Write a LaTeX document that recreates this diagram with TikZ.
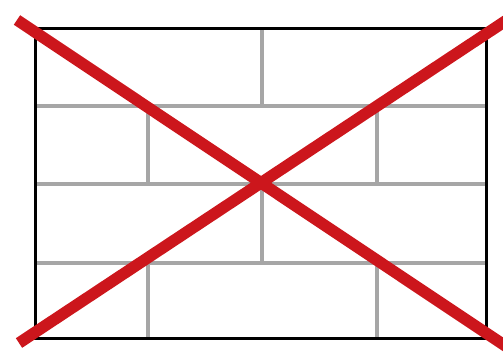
\documentclass[tikz,border=0pt]{standalone}
\definecolor{xred}{HTML}{CC161C}
\definecolor{mortar}{HTML}{A6A6A6}
\tikzset{
  mortarline/.style={draw=mortar, line width=3.4pt},
  framebox/.style={draw=black, line width=3pt},
  crossline/.style={draw=xred, line width=11.5pt}
}
\begin{document}
\begin{tikzpicture}[x=1pt,y=-1pt]
\useasboundingbox (0,0) rectangle (503,352);
\clip (0,0) rectangle (503,352);
\coordinate (tl) at (35,29);
\coordinate (br) at (486,339);
% mortar
\draw[mortarline] (35,106) -- (486,106);
\draw[mortarline] (35,184) -- (486,184);
\draw[mortarline] (35,263) -- (486,263);
\draw[mortarline] (262,29) -- (262,106);
\draw[mortarline] (148,106) -- (148,184);
\draw[mortarline] (377,106) -- (377,184);
\draw[mortarline] (262,184) -- (262,263);
\draw[mortarline] (148,263) -- (148,339);
\draw[mortarline] (377,263) -- (377,339);
% frame
\draw[framebox] (tl) rectangle (br);
% cross
\coordinate (a1) at (17,20);
\coordinate (a2) at (507,347);
\coordinate (b1) at (19,343);
\coordinate (b2) at (507,20);
\draw[crossline] (a1) -- (a2);
\draw[crossline] (b1) -- (b2);
\end{tikzpicture}
\end{document}
